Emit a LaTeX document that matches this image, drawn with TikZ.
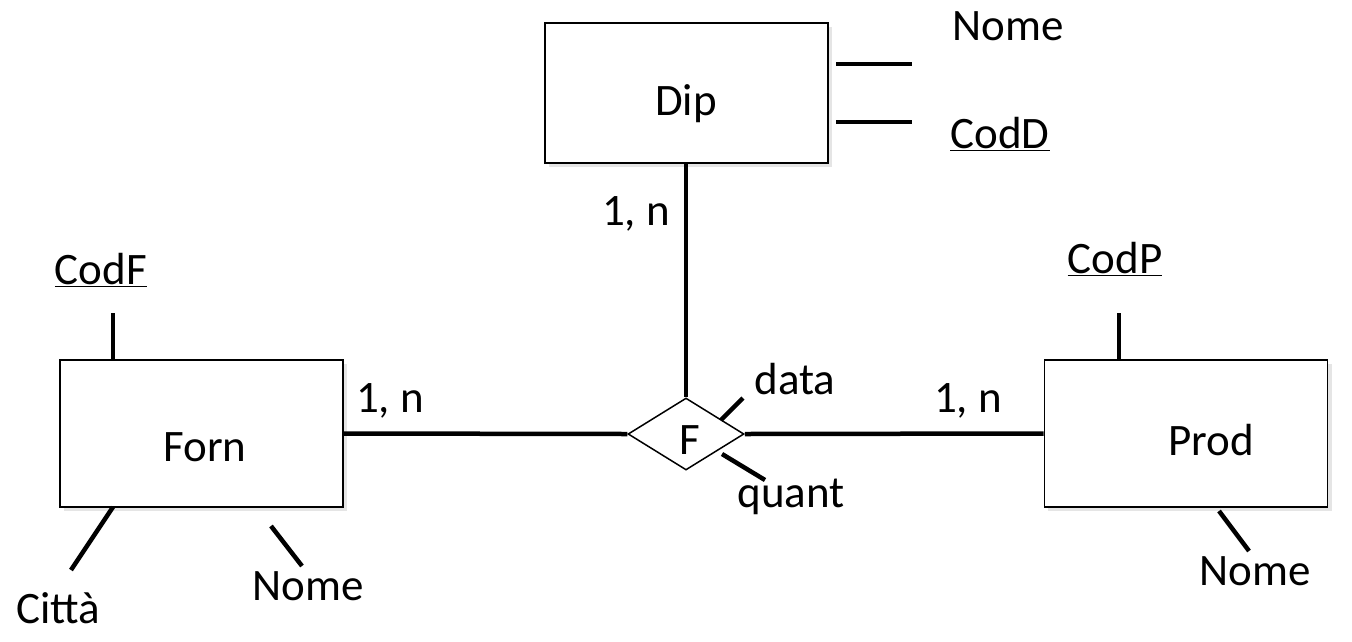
\documentclass[tikz,border=0pt]{standalone}
\usepackage{fontspec}
\setmainfont{Carlito}
\usetikzlibrary{shapes.geometric}
\begin{document}
\begin{tikzpicture}[x=1pt,y=-1pt,
  entity/.style={draw,line width=1.8pt,minimum width=283pt,inner sep=0pt,fill=white},
  rel/.style={draw,diamond,line width=1.5pt,minimum width=116pt,minimum height=72pt,aspect=1.6,inner sep=0pt,fill=white},
  conn/.style={line width=4.5pt},
  lbl/.style={inner sep=0pt,font=\fontsize{45}{52}\selectfont}]
\useasboundingbox (0,0) rectangle (1352,641);
% shadows
\fill[black!10] (549,27) rectangle (832,167);
\fill[black!10] (64,364) rectangle (347,511);
\fill[black!10] (1048,364) rectangle (1332,511);
% entities
\node[entity,minimum height=140pt] (dip) at (686.5,93) {};
\node[lbl] (diplbl) at (686,104) {Dip};
\node[entity,minimum height=147pt] (forn) at (201.5,433.5) {};
\node[lbl] (fornlbl) at (205,447) {Forn};
\node[entity,minimum height=147pt] (prod) at (1186,433.5) {};
\node[lbl] (prodlbl) at (1211,440) {Prod};
\node[rel] (f) at (686,434) {};
\node[lbl] (flbl) at (690,440) {F};
% main connectors
\draw[conn] (dip.south -| f.north) -- (f.north);
\draw[conn] (forn.east) -- (f.west);
\draw[conn] (f.east) -- (prod.west);
% cardinalities
\node[lbl] (c1) at (636,214) {1, n};
\node[lbl] (c2) at (390,401) {1, n};
\node[lbl] (c3) at (968,401) {1, n};
% Dip attributes
\coordinate (dn1) at (836,64); \coordinate (dn2) at (912,64);
\coordinate (dc1) at (836,122); \coordinate (dc2) at (912,122);
\draw[conn] (dn1) -- (dn2);
\draw[conn] (dc1) -- (dc2);
\node[lbl] (dnome) at (1008,26) {Nome};
\node[lbl] (dcod) at (1000,134) {\underline{CodD}};
% Forn attributes
\coordinate (fc1) at (113,313); \coordinate (fc2) at (113,360);
\draw[conn] (fc1) -- (fc2);
\node[lbl] (fcod) at (101,270) {\underline{CodF}};
\coordinate (fci1) at (113,507); \coordinate (fci2) at (71,570);
\draw[conn] (fci1) -- (fci2);
\node[lbl] (fcitta) at (58,608) {Città};
\coordinate (fn1) at (271,526); \coordinate (fn2) at (302,566);
\draw[conn] (fn1) -- (fn2);
\node[lbl] (fnome) at (308,586) {Nome};
% Prod attributes
\coordinate (pc1) at (1119,313); \coordinate (pc2) at (1119,360);
\draw[conn] (pc1) -- (pc2);
\node[lbl] (pcod) at (1115,259) {\underline{CodP}};
\coordinate (pn1) at (1219,511); \coordinate (pn2) at (1249,551);
\draw[conn] (pn1) -- (pn2);
\node[lbl] (pnome) at (1255,571) {Nome};
% relationship attributes
\coordinate (da1) at (721,420); \coordinate (da2) at (743,398);
\draw[conn] (da1) -- (da2);
\node[lbl] (data) at (795,379) {data};
\coordinate (qu1) at (722,454); \coordinate (qu2) at (765,480);
\draw[conn] (qu1) -- (qu2);
\node[lbl] (quant) at (791,497) {quant};
\end{tikzpicture}
\end{document}
